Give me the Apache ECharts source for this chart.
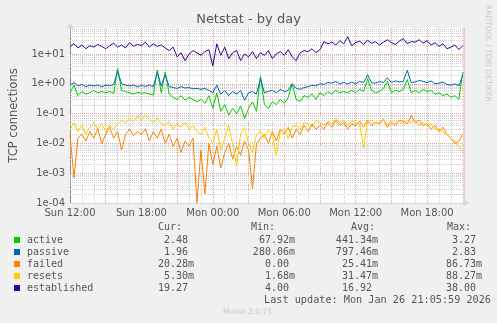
<!DOCTYPE html>
<html>
<head>
<meta charset="utf-8">
<script src="https://cdn.jsdelivr.net/npm/echarts@6/dist/echarts.min.js"></script>
<style>
  html, body { margin: 0; padding: 0; background: #F0F0F0; }
  #chart { width: 497px; height: 323px; }
</style>
</head>
<body>
<div id="chart"></div>
<script>
// Time axis: hours after Sun 12:00, samples every 20 minutes, last update Mon 21:05:59
const spanHours = 33 + 5 / 60 + 59 / 3600;
const stepHours = 1 / 3;

// TCP connection rates (per second), one value per 20-minute sample
const active = [
  0.5, 0.9, 0.4,   0.55, 0.45, 0.5,   0.6, 0.5, 0.55,   0.5, 0.55, 0.48,
  3.27, 0.6, 0.55, 0.5, 0.45, 0.52,   0.48, 0.5, 0.45,  0.42, 2.9, 0.5,
  2.5, 0.45, 0.35, 0.3, 0.4, 0.28,    0.35, 0.3, 0.25,  0.3, 0.22, 0.4,
  0.15, 0.5, 0.12, 0.2, 0.09, 0.15,   0.1, 0.18, 0.068, 0.15, 0.25, 0.12,
  1.8, 0.2, 0.15,  0.25, 0.2, 0.3,    0.22, 0.35, 1.0,  0.3, 0.25, 0.4,
  0.35, 0.45, 0.3, 0.5, 0.4, 0.55,    0.45, 0.6, 0.5,   0.55, 0.5, 0.6,
  0.5, 0.65, 0.55, 1.5, 0.6, 0.5,     0.55, 0.7, 1.2,   0.5, 0.6, 0.55,
  0.65, 1.4, 0.5,  0.6, 0.5, 0.65,    0.55, 0.6, 0.45,  0.5, 0.4, 0.45,
  0.35, 0.4, 0.3,  2.48
];
const passive = [
  0.9, 1.1, 0.85,  0.95, 0.8, 0.9,    0.85, 0.9, 0.8,   0.9, 0.85, 0.95,
  2.6, 1.0, 0.9,   0.85, 0.9, 0.8,    0.88, 0.82, 0.9,  0.8, 2.4, 0.85,
  2.0, 0.8, 0.75,  0.7, 0.8, 0.72,    0.75, 0.68, 0.7,  0.65, 0.7, 0.6,
  0.5, 0.9, 0.45,  0.6, 0.4, 0.55,    0.45, 0.6, 0.28,  0.5, 0.55, 0.45,
  1.5, 0.5, 0.55,  0.6, 0.5, 0.65,    0.55, 0.6, 1.0,   0.7, 0.65, 0.75,
  0.8, 0.9, 0.85,  1.0, 0.95, 1.1,    1.05, 1.2, 1.0,   1.1, 1.0, 1.15,
  1.0, 1.2, 1.1,   2.0, 1.1, 1.05,    1.2, 1.1, 1.6,    1.1, 1.25, 1.15,
  1.2, 2.83, 1.1,  1.15, 1.3, 1.2,    1.1, 1.25, 1.0,   1.05, 1.15, 0.95,
  0.9, 1.0, 0.85,  1.96
];
const failed = [
  0.02, 0.0007, 0.015, 0.02, 0.012, 0.025,  0.015, 0.03, 0.01,   0.02, 0.035, 0.015,
  0.025, 0.006, 0.02,  0.03, 0.018, 0.025,  0.02, 0.03, 0.012,   0.025, 0.015, 0.03,
  0.01, 0.02, 0.008,   0.015, 0.005, 0.012, 0.008, 0.015, 0,     0.006, 0.0002, 0.01,
  0.002, 0.008, 0.0015, 0.005, 0.01, 0.003, 0.008, 0.004, 0.012, 0.006, 0.0003, 0.01,
  0.015, 0.02, 0.01,   0.025, 0.012, 0.03,  0.02, 0.035, 0.015,  0.03, 0.02, 0.04,
  0.025, 0.045, 0.03,  0.04, 0.03, 0.05,    0.035, 0.06, 0.04,   0.05, 0.03, 0.045,
  0.04, 0.055, 0.035,  0.06, 0.04, 0.05,    0.045, 0.065, 0.035, 0.05, 0.04, 0.06,
  0.055, 0.045, 0.0867, 0.05, 0.06, 0.04,   0.045, 0.03, 0.04,   0.025, 0.035, 0.02,
  0.015, 0.01, 0.012,  0.02028
];
const resets = [
  0.03, 0.05, 0.025,   0.04, 0.02, 0.035,   0.05, 0.03, 0.045,   0.025, 0.04, 0.03,
  0.045, 0.06, 0.05,   0.07, 0.055, 0.08,   0.06, 0.0883, 0.065, 0.05, 0.07, 0.045,
  0.04, 0.055, 0.03,   0.045, 0.035, 0.05,  0.03, 0.04, 0.025,   0.02, 0.035, 0.015,
  0.01, 0.03, 0.006,   0.015, 0.04, 0.01,   0.0017, 0.02, 0.035, 0.01, 0.005, 0.02,
  0.025, 0.015, 0.03,  0.02, 0.004, 0.025,  0.03, 0.015, 0.035,  0.04, 0.03, 0.05,
  0.045, 0.035, 0.06,  0.05, 0.04, 0.055,   0.045, 0.07, 0.05,   0.06, 0.04, 0.055,
  0.05, 0.045, 0.007,  0.055, 0.06, 0.045,  0.05, 0.065, 0.04,   0.06, 0.05, 0.055,
  0.045, 0.06, 0.05,   0.055, 0.04, 0.05,   0.04, 0.045, 0.03,   0.03, 0.025, 0.02,
  0.015, 0.012, 0.008, 0.0053
];
const established = [
  18, 22, 16,  20, 15, 19,  17, 21, 18,  15, 19, 23,
  17, 20, 16,  24, 18, 21,  19, 25, 17,  22, 18, 20,
  16, 13, 17,  8, 11, 6,    10, 13, 11,  9, 12, 14,
  4, 22, 9,    17, 7, 11,   13, 6, 10,   8, 12, 7,
  11, 9, 13,   7, 10, 12,   9, 14, 8,    6, 11, 13,
  12, 15, 11,  14, 26, 22,  25, 20, 28,  22, 38, 19,
  24, 27, 21,  29, 23, 26,  20, 25, 30,  24, 21, 27,
  33, 22, 26,  25, 30, 23,  28, 20, 24,  18, 22, 15,
  17, 20, 14,  19.27
];

const seriesNames  = ['active', 'passive', 'failed', 'resets', 'established'];
const seriesColors = ['#00CC00', '#0066B3', '#FF8000', '#FFCC00', '#330099'];
const seriesValues = [active, passive, failed, resets, established];

// Legend table columns
const curText = ['2.48 ', '1.96 ', '20.28m', '5.30m', '19.27 '];
const minText = ['67.92m', '280.06m', '0.00 ', '1.68m', '4.00 '];
const avgText = ['441.34m', '797.46m', '25.41m', '31.47m', '16.92 '];
const maxText = ['3.27 ', '2.83 ', '86.73m', '88.27m', '38.00 '];
const lastUpdate = 'Last update: Mon Jan 26 21:05:59 2026';

const yMin = 1e-4;
const yMax = 74.5;

// Dotted minor grid at 2..9 within every decade
const minorLevels = [];
for (let e = -4; e <= 1; e++) {
  for (let k = 2; k <= 9; k++) {
    const v = k * Math.pow(10, e);
    if (v < yMax) minorLevels.push(v);
  }
}

function fmtExp(v) {
  const e = Math.round(Math.log10(v));
  if (Math.abs(Math.log10(v) - e) > 1e-6) return '';
  return '1e' + (e < 0 ? '-' : '+') + String(Math.abs(e)).padStart(2, '0');
}
function fmtTime(h) {
  if (Math.abs(h % 6) > 1e-6) return '';
  const t = 12 + h;
  const day = t >= 24 ? 'Mon' : 'Sun';
  return day + ' ' + String(t % 24).padStart(2, '0') + ':00';
}

const mono = 'DejaVu Sans Mono';
const sans = 'DejaVu Sans';
const textColor = '#555555';
const minorGrid = '#CFCFCF';
const majorGrid = '#E5A0A0';

const lineSeries = seriesValues.map((vals, i) => ({
  name: seriesNames[i],
  type: 'line',
  xAxisIndex: 0,
  yAxisIndex: 0,
  showSymbol: false,
  symbol: 'none',
  z: 3,
  lineStyle: { color: seriesColors[i], width: 1 },
  data: vals.map((v, j) => [j * stepHours, v > 0 ? v : yMin])
}));

// Minor horizontal grid: one crisp dotted rule per level, positioned by the y scale
const minorGridSeries = {
  type: 'custom',
  xAxisIndex: 0,
  yAxisIndex: 0,
  silent: true,
  z: 1,
  data: minorLevels.map(v => [0, v]),
  renderItem: function (params, api) {
    const left = api.coord([0, api.value(1)]);
    const right = api.coord([spanHours, api.value(1)]);
    const y = Math.round(left[1]) + 0.5;
    return {
      type: 'line',
      shape: { x1: left[0], y1: y, x2: right[0], y2: y },
      style: { stroke: minorGrid, lineWidth: 1, lineDash: [1, 1] },
      silent: true
    };
  }
};

const graphics = [];
// Header row
[['Cur:', 158], ['Min:', 251], ['Avg:', 351], ['Max:', 447]].forEach(([t, x]) => {
  graphics.push({ type: 'text', x: x, y: 227, style: { text: t, font: '10px ' + mono, fill: textColor, textVerticalAlign: 'middle' } });
});
seriesNames.forEach((name, i) => {
  const y = 240 + i * 12;
  graphics.push({ type: 'rect', shape: { x: 14, y: y - 3, width: 6, height: 6 }, style: { fill: seriesColors[i] } });
  graphics.push({ type: 'text', x: 27, y: y, style: { text: name, font: '10px ' + mono, fill: textColor, textVerticalAlign: 'middle' } });
  [[curText, 194], [minText, 295], [avgText, 378], [maxText, 482]].forEach(([arr, x]) => {
    graphics.push({ type: 'text', x: x, y: y, style: { text: arr[i], font: '10px ' + mono, fill: textColor, textAlign: 'right', textVerticalAlign: 'middle' } });
  });
});
graphics.push({ type: 'text', x: 491, y: 300, style: { text: lastUpdate, font: '10.2px ' + mono, fill: textColor, textAlign: 'right', textVerticalAlign: 'middle' } });
graphics.push({ type: 'text', x: 223, y: 312, style: { text: 'Munin 2.0.75', font: '7.5px ' + sans, fill: '#C8C8C8', textVerticalAlign: 'middle' } });
graphics.push({ type: 'text', x: 488, y: 5, rotation: -Math.PI / 2, style: { text: 'RRDTOOL / TOBI OETIKER', font: '7.5px ' + sans, fill: '#C8C8C8', textVerticalAlign: 'middle' } });

const chart = echarts.init(document.getElementById('chart'), null, { renderer: 'canvas' });
chart.setOption({
  animation: false,
  backgroundColor: '#F0F0F0',
  title: {
    text: 'Netstat - by day',
    left: 'center',
    top: 13,
    padding: 0,
    textStyle: { fontFamily: sans, fontSize: 13, fontWeight: 'normal', color: '#555555' }
  },
  grid: { left: 67, top: 28, width: 397, height: 175, backgroundColor: '#FFFFFF', show: true, borderWidth: 0 },
  xAxis: [
    {
      type: 'value', position: 'bottom', min: 0, max: spanHours, interval: 1,
      axisLine: { show: false },
      axisTick: { show: false },
      axisLabel: { show: false },
      splitLine: { show: true, lineStyle: { color: minorGrid, type: 'dotted', width: 1 } }
    },
    {
      type: 'value', position: 'bottom', min: 0, max: spanHours, interval: 3,
      axisLine: { show: true, lineStyle: { color: '#CFD6F8', width: 1 }, symbol: ['none', 'arrow'], symbolSize: [6, 6], symbolOffset: [0, 5] },
      axisTick: { show: false },
      axisLabel: { show: true, formatter: fmtTime, fontFamily: sans, fontSize: 10, color: textColor, margin: 5 },
      splitLine: { show: true, showMinLine: true, lineStyle: { color: majorGrid, type: 'dotted', width: 1 } }
    }
  ],
  yAxis: [
    {
      type: 'log', logBase: 10, min: yMin, max: yMax,
      name: 'TCP connections', nameLocation: 'middle', nameGap: 50, nameRotate: 90,
      nameTextStyle: { fontFamily: sans, fontSize: 11.5, color: textColor },
      axisLine: { show: true, lineStyle: { color: '#CFD6F8', width: 1 }, symbol: ['none', 'arrow'], symbolSize: [6, 6], symbolOffset: [0, 5] },
      axisTick: { show: false },
      axisLabel: { show: true, formatter: fmtExp, fontFamily: sans, fontSize: 10, color: textColor, margin: 5 },
      splitLine: { show: true, showMaxLine: false, lineStyle: { color: majorGrid, type: 'dotted', width: 1 } }
    },
    {
      type: 'log', logBase: 10, min: yMin, max: yMax, position: 'right',
      axisLine: { show: true, lineStyle: { color: '#888888', width: 1 } },
      axisTick: { show: false },
      axisLabel: { show: false },
      splitLine: { show: false }
    }
  ],
  series: [minorGridSeries].concat(lineSeries),
  graphic: graphics
});
</script>
</body>
</html>
